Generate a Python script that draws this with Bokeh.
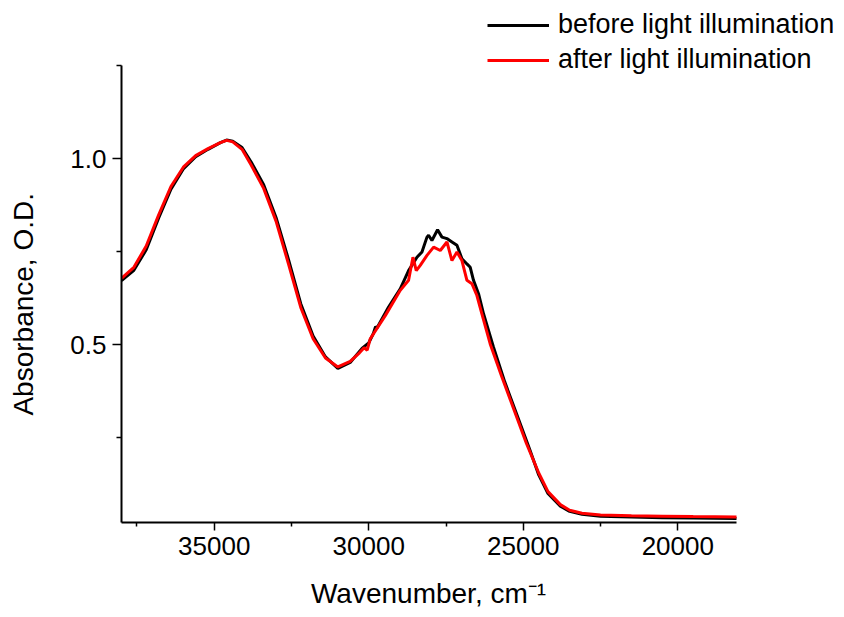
from bokeh.plotting import figure
from bokeh.models import (Range1d, FixedTicker, PrintfTickFormatter, Legend, LegendItem,
                          ColumnDataSource)
from bokeh.embed import file_html
from bokeh.resources import INLINE

# ---- data ----
wn_before = [38000, 37600, 37200, 36800, 36400, 36000, 35600, 35200, 34800, 34600,
             34400, 34100, 33800, 33400, 33000, 32600, 32200, 31800, 31400, 31000,
             30600, 30218, 30000, 29850, 29780, 29733, 29600, 29358, 28980, 28711,
             28440, 28278, 28116, 28064, 27956, 27773, 27631, 27470, 27308, 27146,
             26985, 26823, 26716, 26610, 26448, 26286, 25963, 25600, 25200, 24800,
             24500, 24200, 23800, 23500, 23100, 22500, 21500, 20500, 19500, 18100]
abs_before = [0.672, 0.700, 0.755, 0.840, 0.918, 0.972, 1.005, 1.025, 1.043, 1.050,
              1.047, 1.030, 0.990, 0.930, 0.842, 0.730, 0.610, 0.523, 0.467, 0.436,
              0.452, 0.490, 0.505, 0.530, 0.548, 0.545, 0.565, 0.601, 0.650, 0.699,
              0.735, 0.749, 0.789, 0.794, 0.780, 0.809, 0.789, 0.785, 0.776, 0.767,
              0.731, 0.717, 0.708, 0.673, 0.637, 0.583, 0.493, 0.400, 0.310, 0.220,
              0.150, 0.100, 0.066, 0.052, 0.044, 0.039, 0.037, 0.035, 0.034, 0.033]

wn_after = [38000, 37600, 37200, 36800, 36400, 36000, 35600, 35200, 34800, 34600,
            34400, 34100, 33800, 33400, 33000, 32600, 32200, 31800, 31400, 31000,
            30600, 30300, 30150, 30050, 29950, 29465, 28980, 28711, 28570, 28462,
            28333, 28116, 27901, 27685, 27470, 27308, 27146, 26985, 26823, 26662,
            26500, 26339, 26070, 25700, 25300, 24900, 24500, 24200, 23800, 23500,
            23100, 22500, 21500, 20500, 19500, 18100]
abs_after = [0.678, 0.708, 0.765, 0.848, 0.925, 0.977, 1.008, 1.027, 1.043, 1.049,
             1.045, 1.025, 0.982, 0.920, 0.832, 0.718, 0.600, 0.516, 0.464, 0.440,
             0.455, 0.478, 0.492, 0.485, 0.516, 0.578, 0.646, 0.673, 0.735, 0.699,
             0.713, 0.740, 0.762, 0.753, 0.776, 0.726, 0.749, 0.726, 0.673, 0.664,
             0.632, 0.583, 0.502, 0.415, 0.325, 0.235, 0.155, 0.105, 0.070, 0.055,
             0.047, 0.042, 0.040, 0.039, 0.038, 0.037]

x_major = [20000, 25000, 30000, 35000]
x_minor = [22500, 27500, 32500, 37500]
y_major = [0.5, 1.0]
y_minor = [0.25, 0.75, 1.25]
x_axis_bounds = (18100, 38000)
y_axis_bounds = (0.022, 1.25)
series_labels = ["before light illumination", "after light illumination"]
x_title = "Wavenumber, cm\u207b\u00b9"
y_title = "Absorbance, O.D."

FONT = "Liberation Sans"
NBSP = "\u00a0"

# frame covers the legend area too; the axes are limited with bounds
p = figure(width=844, height=617, output_backend="svg", toolbar_location=None,
           x_range=Range1d(38000, 14606), y_range=Range1d(0.022, 1.425),
           min_border_left=121, min_border_right=0, min_border_top=0,
           min_border_bottom=95)
p.outline_line_color = None
p.xgrid.visible = False
p.ygrid.visible = False
p.background_fill_color = "white"
p.border_fill_color = "white"

src_b = ColumnDataSource(dict(x=wn_before, y=abs_before))
src_a = ColumnDataSource(dict(x=wn_after, y=abs_after))
rb = p.line("x", "y", source=src_b, line_color="black", line_width=3)
ra = p.line("x", "y", source=src_a, line_color="#ff0000", line_width=3)

for ax in (p.xaxis[0], p.yaxis[0]):
    ax.axis_line_width = 2
    ax.axis_line_color = "black"
    ax.major_tick_line_width = 1.5
    ax.minor_tick_line_width = 1.5
    ax.major_tick_in = 0
    ax.minor_tick_in = 0
    ax.major_label_text_font = FONT
    ax.major_label_text_font_size = "26px"
    ax.major_label_text_color = "black"
    ax.axis_label_text_font = FONT
    ax.axis_label_text_font_size = "28px"
    ax.axis_label_text_font_style = "normal"
    ax.axis_label_text_color = "black"

p.xaxis.bounds = x_axis_bounds
p.yaxis.bounds = y_axis_bounds
p.xaxis.ticker = FixedTicker(ticks=x_major, minor_ticks=x_minor)
p.yaxis.ticker = FixedTicker(ticks=y_major, minor_ticks=y_minor)
p.xaxis.formatter = PrintfTickFormatter(format="%d")
p.yaxis.formatter = PrintfTickFormatter(format="%.1f")
p.xaxis.major_tick_out = 8
p.xaxis.minor_tick_out = 4
p.yaxis.major_tick_out = 9
p.yaxis.minor_tick_out = 5
p.xaxis.major_label_standoff = 6
p.yaxis.major_label_standoff = 6
# titles are centred on the (wider) frame; trailing no-break spaces recentre them on the axis line
p.xaxis.axis_label = x_title + NBSP * 14
p.yaxis.axis_label = y_title + NBSP * 11
p.xaxis.axis_label_standoff = 20
p.yaxis.axis_label_standoff = 28

legend = Legend(items=[LegendItem(label=series_labels[0], renderers=[rb]),
                       LegendItem(label=series_labels[1], renderers=[ra])],
                location=(366, 447), orientation="vertical")
legend.border_line_color = None
legend.background_fill_alpha = 0
legend.padding = 0
legend.margin = 0
legend.spacing = 4
legend.glyph_width = 62
legend.glyph_height = 30
legend.label_height = 30
legend.label_standoff = 9
legend.label_text_font = FONT
legend.label_text_font_size = "27px"
legend.label_text_color = "black"
legend.label_text_baseline = "middle"
p.add_layout(legend, "center")

open("out.html", "w").write(file_html(p, INLINE))
